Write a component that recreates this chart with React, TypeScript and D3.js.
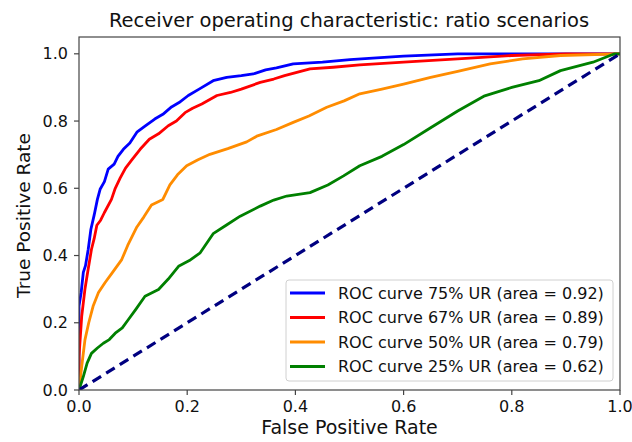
import React from 'react'
import * as d3 from 'd3'

type Pt = [number, number]

// fpr, tpr
const roc75: Pt[] = [
  [0, 0], [0, 0.25], [0.004, 0.29], [0.008, 0.35], [0.012, 0.37], [0.017, 0.418],
  [0.022, 0.478], [0.028, 0.52], [0.034, 0.567], [0.039, 0.597], [0.047, 0.62],
  [0.054, 0.657], [0.065, 0.672], [0.072, 0.695], [0.082, 0.716], [0.094, 0.735],
  [0.107, 0.767], [0.122, 0.785], [0.14, 0.806], [0.155, 0.82], [0.171, 0.842],
  [0.185, 0.855], [0.202, 0.876], [0.222, 0.895], [0.248, 0.92], [0.273, 0.93],
  [0.3, 0.935], [0.322, 0.94], [0.345, 0.952], [0.365, 0.958], [0.396, 0.97],
  [0.45, 0.975], [0.501, 0.983], [0.55, 0.988], [0.6, 0.993], [0.7, 1.0], [1, 1]
]

const roc67: Pt[] = [
  [0, 0], [0, 0.1], [0.005, 0.219], [0.011, 0.3], [0.016, 0.35], [0.023, 0.418],
  [0.028, 0.45], [0.033, 0.49], [0.04, 0.505], [0.047, 0.528], [0.06, 0.567],
  [0.067, 0.6], [0.076, 0.63], [0.086, 0.66], [0.098, 0.685], [0.113, 0.716],
  [0.13, 0.746], [0.147, 0.762], [0.165, 0.786], [0.18, 0.8], [0.196, 0.825],
  [0.21, 0.838], [0.227, 0.851], [0.255, 0.876], [0.28, 0.885], [0.3, 0.895],
  [0.335, 0.915], [0.36, 0.925], [0.38, 0.935], [0.427, 0.955], [0.47, 0.96],
  [0.519, 0.967], [0.6, 0.975], [0.7, 0.985], [0.8, 0.995], [0.9, 1.0], [1, 1]
]

const roc50: Pt[] = [
  [0, 0], [0.005, 0.07], [0.011, 0.149], [0.018, 0.2], [0.026, 0.249],
  [0.036, 0.29], [0.048, 0.319], [0.062, 0.35], [0.079, 0.388], [0.09, 0.43],
  [0.107, 0.485], [0.12, 0.515], [0.134, 0.55], [0.155, 0.567], [0.168, 0.61],
  [0.182, 0.64], [0.199, 0.667], [0.22, 0.685], [0.242, 0.701], [0.275, 0.718],
  [0.31, 0.738], [0.33, 0.756], [0.365, 0.775], [0.396, 0.796], [0.425, 0.815],
  [0.458, 0.841], [0.49, 0.86], [0.519, 0.881], [0.56, 0.895], [0.6, 0.91],
  [0.65, 0.93], [0.7, 0.948], [0.76, 0.97], [0.82, 0.985], [0.89, 0.995], [1, 1]
]

const roc25: Pt[] = [
  [0, 0], [0.008, 0.04], [0.015, 0.08], [0.023, 0.109], [0.034, 0.125],
  [0.045, 0.139], [0.056, 0.15], [0.067, 0.169], [0.08, 0.185], [0.091, 0.209],
  [0.105, 0.24], [0.122, 0.279], [0.147, 0.299], [0.165, 0.33], [0.184, 0.368],
  [0.204, 0.385], [0.224, 0.408], [0.248, 0.465], [0.272, 0.49], [0.298, 0.517],
  [0.335, 0.547], [0.36, 0.565], [0.384, 0.577], [0.427, 0.587], [0.46, 0.61],
  [0.489, 0.637], [0.519, 0.667], [0.56, 0.695], [0.6, 0.73], [0.65, 0.78],
  [0.7, 0.83], [0.75, 0.875], [0.8, 0.9], [0.85, 0.92], [0.89, 0.95],
  [0.95, 0.975], [0.99, 1.0], [1, 1]
]

const chance: Pt[] = [[0, 0], [1, 1]]

const seriesLabels = [
  'ROC curve 75% UR (area = 0.92)',
  'ROC curve 67% UR (area = 0.89)',
  'ROC curve 50% UR (area = 0.79)',
  'ROC curve 25% UR (area = 0.62)'
]
const seriesColors = ['#0000ff', '#ff0000', '#ff8c00', '#008000']
const seriesData = [roc75, roc67, roc50, roc25]

const xTicks = [0, 0.2, 0.4, 0.6, 0.8, 1.0]
const yTicks = [0, 0.2, 0.4, 0.6, 0.8, 1.0]

const W = 632
const H = 442
const left = 79
const right = 620
const top = 37
const bottom = 390
const font = 'DejaVu Sans, sans-serif'

export default function App() {
  const x = d3.scaleLinear().domain([0, 1]).range([left, right])
  const y = d3.scaleLinear().domain([0, 1.05]).range([bottom, top])
  const line = d3
    .line<Pt>()
    .x(d => x(d[0]))
    .y(d => y(d[1]))

  const legendX = 286
  const legendY = 280
  const rowH = 24.5

  return (
    <div style={{ position: 'absolute', left: 0, top: 0 }}>
      <svg width={W} height={H} style={{ display: 'block', background: '#fff' }}>
        <defs>
          <clipPath id="plot">
            <rect x={left} y={top} width={right - left} height={bottom - top} />
          </clipPath>
        </defs>
        <g clipPath="url(#plot)">
          {seriesData.map((d, i) => (
            <path
              key={i}
              d={line(d) || ''}
              fill="none"
              stroke={seriesColors[i]}
              strokeWidth={2.8}
              strokeLinejoin="round"
            />
          ))}
          <path
            d={line(chance) || ''}
            fill="none"
            stroke="#000080"
            strokeWidth={3.2}
            strokeDasharray="10,6"
          />
        </g>

        <rect
          x={left}
          y={top}
          width={right - left}
          height={bottom - top}
          fill="none"
          stroke="#444"
          strokeWidth={1.2}
        />

        {xTicks.map(t => (
          <g key={'x' + t} transform={`translate(${x(t)},${bottom})`}>
            <line y2={5} stroke="#444" strokeWidth={1.2} />
            <text y={22} textAnchor="middle" fontFamily={font} fontSize={16} fill="#111">
              {t.toFixed(1)}
            </text>
          </g>
        ))}
        {yTicks.map(t => (
          <g key={'y' + t} transform={`translate(${left},${y(t)})`}>
            <line x2={-5} stroke="#444" strokeWidth={1.2} />
            <text x={-11} dy="0.35em" textAnchor="end" fontFamily={font} fontSize={16} fill="#111">
              {t.toFixed(1)}
            </text>
          </g>
        ))}

        <text x={349} y={27} textAnchor="middle" fontFamily={font} fontSize={19.5} fill="#111">
          Receiver operating characteristic: ratio scenarios
        </text>
        <text x={(left + right) / 2} y={434} textAnchor="middle" fontFamily={font} fontSize={19} fill="#111">
          False Positive Rate
        </text>
        <text
          transform={`translate(30,${(top + bottom) / 2 + 2}) rotate(-90)`}
          textAnchor="middle"
          fontFamily={font}
          fontSize={18.5}
          fill="#111"
        >
          True Positive Rate
        </text>

        <rect
          x={legendX}
          y={legendY}
          width={327}
          height={101}
          rx={3}
          fill="#fff"
          fillOpacity={0.85}
          stroke="#d0d0d0"
        />
        {seriesLabels.map((lab, i) => {
          const ly = legendY + 13 + i * rowH
          return (
            <g key={lab}>
              <line x1={legendX + 4} x2={legendX + 39} y1={ly} y2={ly} stroke={seriesColors[i]} strokeWidth={2.8} />
              <text x={legendX + 52} y={ly} dy="0.35em" fontFamily={font} fontSize={16} fill="#111">
                {lab}
              </text>
            </g>
          )
        })}
      </svg>
    </div>
  )
}
